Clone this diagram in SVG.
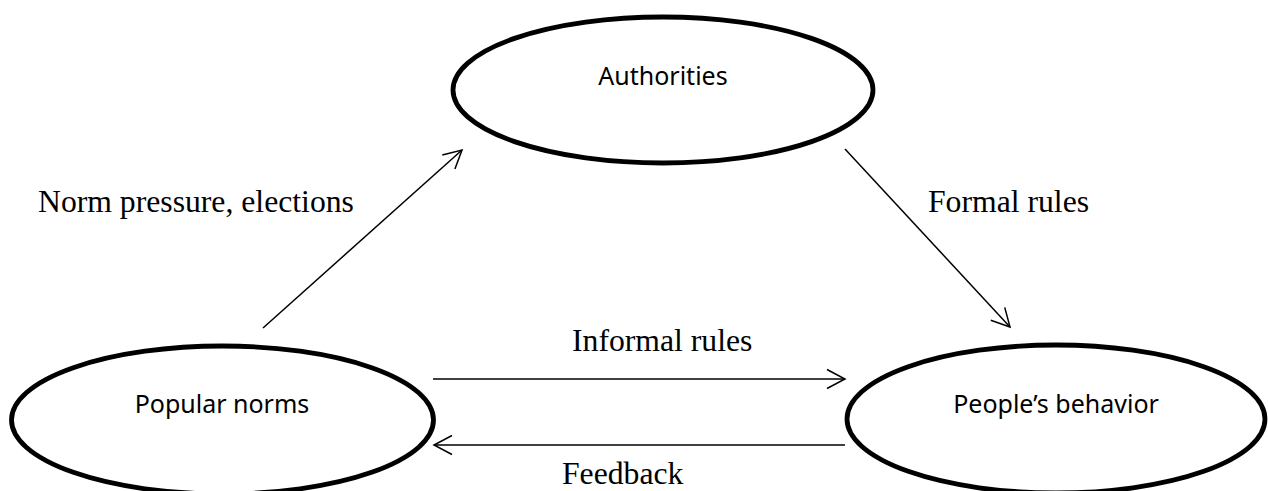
<svg xmlns="http://www.w3.org/2000/svg" width="1268" height="491" viewBox="0 0 1268 491">
  <style>
    .node ellipse { fill: #ffffff; stroke: #000000; stroke-width: 4.8; }
    .node text { font-family: "Noto Sans", "Open Sans", sans-serif; font-size: 25px; fill: #000000; text-anchor: middle; }
    .edge { stroke: #000000; stroke-width: 1.5; fill: none; marker-end: url(#arrow); }
    .label { font-family: "Liberation Serif", "Times New Roman", serif; font-size: 31.7px; fill: #000000; }
  </style>
  <defs>
    <marker id="arrow" markerUnits="userSpaceOnUse" markerWidth="24" markerHeight="24" viewBox="-20 -12 22 24" refX="0" refY="0" orient="auto">
      <path d="M-18,-9.5 L0,0 L-18,9.5" fill="none" stroke="#000000" stroke-width="1.5"/>
    </marker>
  </defs>
  <rect width="1268" height="491" fill="#ffffff"/>

  <!-- connectors and their labels -->
  <g id="connectors">
    <line class="edge" x1="263" y1="328" x2="462" y2="150"/>
    <line class="edge" x1="845" y1="149" x2="1010" y2="327"/>
    <line class="edge" x1="433" y1="379" x2="845" y2="379"/>
    <line class="edge" x1="845" y1="445" x2="434" y2="445"/>
    <text class="label" x="38" y="212">Norm pressure, elections</text>
    <text class="label" x="928" y="212">Formal rules</text>
    <text class="label" x="572" y="351">Informal rules</text>
    <text class="label" x="562" y="484">Feedback</text>
  </g>

  <!-- nodes -->
  <g id="authorities" class="node">
    <ellipse cx="663" cy="90" rx="210" ry="73"/>
    <text x="663" y="85">Authorities</text>
  </g>
  <g id="popular-norms" class="node">
    <ellipse cx="222.5" cy="420" rx="211" ry="74"/>
    <text x="222" y="413">Popular norms</text>
  </g>
  <g id="peoples-behavior" class="node">
    <ellipse cx="1056" cy="419" rx="209" ry="74"/>
    <text x="1056" y="413">People’s behavior</text>
  </g>
</svg>
